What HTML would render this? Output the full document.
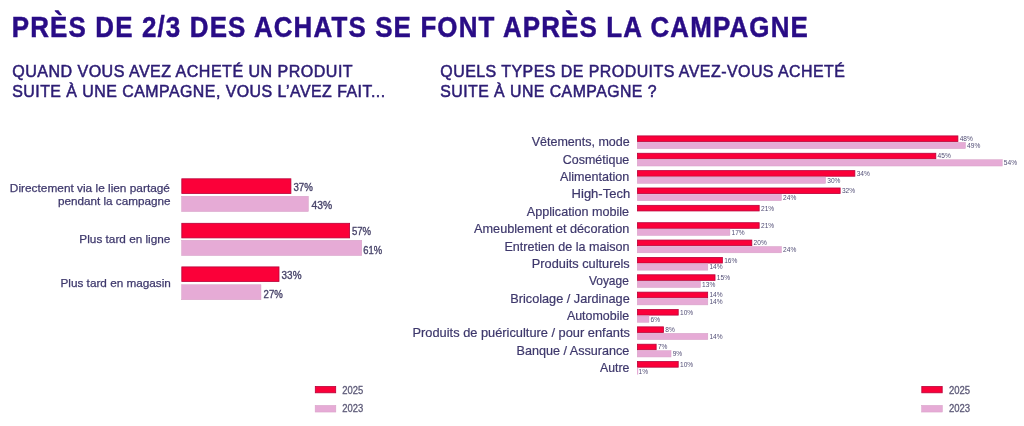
<!DOCTYPE html><html><head><meta charset="utf-8"><title>Achats après campagne</title><style>html,body{margin:0;padding:0;background:#fff;width:1024px;height:426px;overflow:hidden}svg{display:block;will-change:transform}text{font-family:"Liberation Sans",Arial,sans-serif}</style></head><body>
<svg width="1024" height="426" viewBox="0 0 1024 426">
<rect width="1024" height="426" fill="#fff"/>
<rect x="181.80" y="178.80" width="109.10" height="14.70" fill="#fb0039" stroke="#b8003a" stroke-width="0.8"/>
<rect x="181.65" y="196.25" width="126.70" height="15.30" fill="#e6abd6" stroke="#d6a0c6" stroke-width="0.5"/>
<rect x="181.80" y="223.30" width="167.80" height="14.60" fill="#fb0039" stroke="#b8003a" stroke-width="0.8"/>
<rect x="181.65" y="240.25" width="180.10" height="15.30" fill="#e6abd6" stroke="#d6a0c6" stroke-width="0.5"/>
<rect x="181.80" y="266.90" width="97.20" height="14.60" fill="#fb0039" stroke="#b8003a" stroke-width="0.8"/>
<rect x="181.65" y="284.75" width="79.30" height="15.00" fill="#e6abd6" stroke="#d6a0c6" stroke-width="0.5"/>
<rect x="637.40" y="135.90" width="320.50" height="5.60" fill="#fb0039" stroke="#b8003a" stroke-width="0.8"/>
<rect x="637.25" y="142.35" width="328.16" height="6.30" fill="#e6abd6" stroke="#d6a0c6" stroke-width="0.5"/>
<rect x="637.40" y="153.26" width="298.42" height="5.60" fill="#fb0039" stroke="#b8003a" stroke-width="0.8"/>
<rect x="637.25" y="159.71" width="364.96" height="6.30" fill="#e6abd6" stroke="#d6a0c6" stroke-width="0.5"/>
<rect x="637.40" y="170.62" width="217.46" height="5.60" fill="#fb0039" stroke="#b8003a" stroke-width="0.8"/>
<rect x="637.25" y="177.07" width="188.32" height="6.30" fill="#e6abd6" stroke="#d6a0c6" stroke-width="0.5"/>
<rect x="637.40" y="187.98" width="202.74" height="5.60" fill="#fb0039" stroke="#b8003a" stroke-width="0.8"/>
<rect x="637.25" y="194.43" width="144.16" height="6.30" fill="#e6abd6" stroke="#d6a0c6" stroke-width="0.5"/>
<rect x="637.40" y="205.34" width="121.78" height="5.60" fill="#fb0039" stroke="#b8003a" stroke-width="0.8"/>
<rect x="637.40" y="222.70" width="121.78" height="5.60" fill="#fb0039" stroke="#b8003a" stroke-width="0.8"/>
<rect x="637.25" y="229.15" width="92.64" height="6.30" fill="#e6abd6" stroke="#d6a0c6" stroke-width="0.5"/>
<rect x="637.40" y="240.06" width="114.42" height="5.60" fill="#fb0039" stroke="#b8003a" stroke-width="0.8"/>
<rect x="637.25" y="246.51" width="144.16" height="6.30" fill="#e6abd6" stroke="#d6a0c6" stroke-width="0.5"/>
<rect x="637.40" y="257.42" width="84.98" height="5.60" fill="#fb0039" stroke="#b8003a" stroke-width="0.8"/>
<rect x="637.25" y="263.87" width="70.56" height="6.30" fill="#e6abd6" stroke="#d6a0c6" stroke-width="0.5"/>
<rect x="637.40" y="274.78" width="77.62" height="5.60" fill="#fb0039" stroke="#b8003a" stroke-width="0.8"/>
<rect x="637.25" y="281.23" width="63.20" height="6.30" fill="#e6abd6" stroke="#d6a0c6" stroke-width="0.5"/>
<rect x="637.40" y="292.14" width="70.26" height="5.60" fill="#fb0039" stroke="#b8003a" stroke-width="0.8"/>
<rect x="637.25" y="298.59" width="70.56" height="6.30" fill="#e6abd6" stroke="#d6a0c6" stroke-width="0.5"/>
<rect x="637.40" y="309.50" width="40.82" height="5.60" fill="#fb0039" stroke="#b8003a" stroke-width="0.8"/>
<rect x="637.25" y="315.95" width="11.68" height="6.30" fill="#e6abd6" stroke="#d6a0c6" stroke-width="0.5"/>
<rect x="637.40" y="326.86" width="26.10" height="5.60" fill="#fb0039" stroke="#b8003a" stroke-width="0.8"/>
<rect x="637.25" y="333.31" width="70.56" height="6.30" fill="#e6abd6" stroke="#d6a0c6" stroke-width="0.5"/>
<rect x="637.40" y="344.22" width="18.74" height="5.60" fill="#fb0039" stroke="#b8003a" stroke-width="0.8"/>
<rect x="637.25" y="350.67" width="33.76" height="6.30" fill="#e6abd6" stroke="#d6a0c6" stroke-width="0.5"/>
<rect x="637.40" y="361.58" width="40.82" height="5.60" fill="#fb0039" stroke="#b8003a" stroke-width="0.8"/>
<rect x="637.00" y="367.78" width="1.20" height="6.80" fill="#e6abd6"/>
<rect x="315.30" y="386.50" width="20.40" height="6.30" fill="#fb0039" stroke="#b8003a" stroke-width="0.8"/>
<rect x="315.15" y="405.35" width="20.70" height="6.70" fill="#e6abd6" stroke="#d6a0c6" stroke-width="0.5"/>
<rect x="921.80" y="386.50" width="20.40" height="6.30" fill="#fb0039" stroke="#b8003a" stroke-width="0.8"/>
<rect x="921.65" y="405.35" width="20.70" height="6.70" fill="#e6abd6" stroke="#d6a0c6" stroke-width="0.5"/>
<text x="11.82" y="36.80" font-size="29.6" font-weight="bold" fill="#290c86" stroke="#290c86" stroke-width="0.5" letter-spacing="1.3" textLength="797.12" lengthAdjust="spacingAndGlyphs">PRÈS DE 2/3 DES ACHATS SE FONT APRÈS LA CAMPAGNE</text>
<text x="12.20" y="76.70" font-size="17.0" fill="#2c1c74" stroke="#2c1c74" stroke-width="0.55" letter-spacing="0.5" textLength="340.97" lengthAdjust="spacingAndGlyphs">QUAND VOUS AVEZ ACHETÉ UN PRODUIT</text>
<text x="12.20" y="96.60" font-size="17.0" fill="#2c1c74" stroke="#2c1c74" stroke-width="0.55" letter-spacing="0.5" textLength="373.38" lengthAdjust="spacingAndGlyphs">SUITE À UNE CAMPAGNE, VOUS L’AVEZ FAIT...</text>
<text x="440.30" y="76.70" font-size="17.0" fill="#2c1c74" stroke="#2c1c74" stroke-width="0.55" letter-spacing="0.5" textLength="405.13" lengthAdjust="spacingAndGlyphs">QUELS TYPES DE PRODUITS AVEZ-VOUS ACHETÉ</text>
<text x="440.30" y="96.60" font-size="17.0" fill="#2c1c74" stroke="#2c1c74" stroke-width="0.55" letter-spacing="0.5" textLength="216.74" lengthAdjust="spacingAndGlyphs">SUITE À UNE CAMPAGNE ?</text>
<text x="9.89" y="192.00" font-size="11.7" fill="#3e386c" stroke="#3e386c" stroke-width="0.25" textLength="160.09" lengthAdjust="spacingAndGlyphs">Directement via le lien partagé</text>
<text x="57.90" y="205.20" font-size="11.7" fill="#3e386c" stroke="#3e386c" stroke-width="0.25" textLength="112.62" lengthAdjust="spacingAndGlyphs">pendant la campagne</text>
<text x="79.39" y="242.70" font-size="11.7" fill="#3e386c" stroke="#3e386c" stroke-width="0.25" textLength="91.02" lengthAdjust="spacingAndGlyphs">Plus tard en ligne</text>
<text x="60.49" y="287.10" font-size="11.7" fill="#3e386c" stroke="#3e386c" stroke-width="0.25" textLength="110.41" lengthAdjust="spacingAndGlyphs">Plus tard en magasin</text>
<text x="293.40" y="191.10" font-size="10.6" fill="#48446a" stroke="#48446a" stroke-width="0.35" textLength="19.39" lengthAdjust="spacingAndGlyphs">37%</text>
<text x="311.60" y="209.10" font-size="10.6" fill="#48446a" stroke="#48446a" stroke-width="0.35" textLength="20.60" lengthAdjust="spacingAndGlyphs">43%</text>
<text x="351.90" y="234.60" font-size="10.6" fill="#48446a" stroke="#48446a" stroke-width="0.35" textLength="19.18" lengthAdjust="spacingAndGlyphs">57%</text>
<text x="363.20" y="253.70" font-size="10.6" fill="#48446a" stroke="#48446a" stroke-width="0.35" textLength="18.88" lengthAdjust="spacingAndGlyphs">61%</text>
<text x="281.60" y="279.00" font-size="10.6" fill="#48446a" stroke="#48446a" stroke-width="0.35" textLength="19.89" lengthAdjust="spacingAndGlyphs">33%</text>
<text x="263.60" y="297.50" font-size="10.6" fill="#48446a" stroke="#48446a" stroke-width="0.35" textLength="19.18" lengthAdjust="spacingAndGlyphs">27%</text>
<text x="531.70" y="146.40" font-size="12.2" fill="#3e386c" stroke="#3e386c" stroke-width="0.2" textLength="98.05" lengthAdjust="spacingAndGlyphs">Vêtements, mode</text>
<text x="562.80" y="163.76" font-size="12.2" fill="#3e386c" stroke="#3e386c" stroke-width="0.2" textLength="66.45" lengthAdjust="spacingAndGlyphs">Cosmétique</text>
<text x="560.10" y="181.12" font-size="12.2" fill="#3e386c" stroke="#3e386c" stroke-width="0.2" textLength="69.18" lengthAdjust="spacingAndGlyphs">Alimentation</text>
<text x="571.63" y="198.48" font-size="12.2" fill="#3e386c" stroke="#3e386c" stroke-width="0.2" textLength="58.50" lengthAdjust="spacingAndGlyphs">High-Tech</text>
<text x="526.80" y="215.84" font-size="12.2" fill="#3e386c" stroke="#3e386c" stroke-width="0.2" textLength="102.32" lengthAdjust="spacingAndGlyphs">Application mobile</text>
<text x="474.10" y="233.20" font-size="12.2" fill="#3e386c" stroke="#3e386c" stroke-width="0.2" textLength="155.17" lengthAdjust="spacingAndGlyphs">Ameublement et décoration</text>
<text x="504.47" y="250.56" font-size="12.2" fill="#3e386c" stroke="#3e386c" stroke-width="0.2" textLength="125.02" lengthAdjust="spacingAndGlyphs">Entretien de la maison</text>
<text x="531.85" y="267.92" font-size="12.2" fill="#3e386c" stroke="#3e386c" stroke-width="0.2" textLength="97.85" lengthAdjust="spacingAndGlyphs">Produits culturels</text>
<text x="588.90" y="285.28" font-size="12.2" fill="#3e386c" stroke="#3e386c" stroke-width="0.2" textLength="39.98" lengthAdjust="spacingAndGlyphs">Voyage</text>
<text x="510.26" y="302.64" font-size="12.2" fill="#3e386c" stroke="#3e386c" stroke-width="0.2" textLength="119.47" lengthAdjust="spacingAndGlyphs">Bricolage / Jardinage</text>
<text x="566.90" y="320.00" font-size="12.2" fill="#3e386c" stroke="#3e386c" stroke-width="0.2" textLength="62.28" lengthAdjust="spacingAndGlyphs">Automobile</text>
<text x="412.55" y="337.36" font-size="12.2" fill="#3e386c" stroke="#3e386c" stroke-width="0.2" textLength="217.33" lengthAdjust="spacingAndGlyphs">Produits de puériculture / pour enfants</text>
<text x="516.47" y="354.72" font-size="12.2" fill="#3e386c" stroke="#3e386c" stroke-width="0.2" textLength="112.83" lengthAdjust="spacingAndGlyphs">Banque / Assurance</text>
<text x="600.00" y="372.08" font-size="12.2" fill="#3e386c" stroke="#3e386c" stroke-width="0.2" textLength="29.34" lengthAdjust="spacingAndGlyphs">Autre</text>
<text x="959.70" y="141.10" font-size="6.6" fill="#524e76">48%</text>
<text x="967.06" y="147.90" font-size="6.6" fill="#524e76">49%</text>
<text x="937.62" y="158.46" font-size="6.6" fill="#524e76">45%</text>
<text x="1003.86" y="165.26" font-size="6.6" fill="#524e76">54%</text>
<text x="856.66" y="175.82" font-size="6.6" fill="#524e76">34%</text>
<text x="827.22" y="182.62" font-size="6.6" fill="#524e76">30%</text>
<text x="841.94" y="193.18" font-size="6.6" fill="#524e76">32%</text>
<text x="783.06" y="199.98" font-size="6.6" fill="#524e76">24%</text>
<text x="760.98" y="210.54" font-size="6.6" fill="#524e76">21%</text>
<text x="760.98" y="227.90" font-size="6.6" fill="#524e76">21%</text>
<text x="731.54" y="234.70" font-size="6.6" fill="#524e76">17%</text>
<text x="753.62" y="245.26" font-size="6.6" fill="#524e76">20%</text>
<text x="783.06" y="252.06" font-size="6.6" fill="#524e76">24%</text>
<text x="724.18" y="262.62" font-size="6.6" fill="#524e76">16%</text>
<text x="709.46" y="269.42" font-size="6.6" fill="#524e76">14%</text>
<text x="716.82" y="279.98" font-size="6.6" fill="#524e76">15%</text>
<text x="702.10" y="286.78" font-size="6.6" fill="#524e76">13%</text>
<text x="709.46" y="297.34" font-size="6.6" fill="#524e76">14%</text>
<text x="709.46" y="304.14" font-size="6.6" fill="#524e76">14%</text>
<text x="680.02" y="314.70" font-size="6.6" fill="#524e76">10%</text>
<text x="650.58" y="321.50" font-size="6.6" fill="#524e76">6%</text>
<text x="665.30" y="332.06" font-size="6.6" fill="#524e76">8%</text>
<text x="709.46" y="338.86" font-size="6.6" fill="#524e76">14%</text>
<text x="657.94" y="349.42" font-size="6.6" fill="#524e76">7%</text>
<text x="672.66" y="356.22" font-size="6.6" fill="#524e76">9%</text>
<text x="680.02" y="366.78" font-size="6.6" fill="#524e76">10%</text>
<text x="638.50" y="373.58" font-size="6.6" fill="#524e76">1%</text>
<text x="342.30" y="393.90" font-size="10.0" fill="#5d5a78" stroke="#5d5a78" stroke-width="0.3" textLength="20.94" lengthAdjust="spacingAndGlyphs">2025</text>
<text x="342.30" y="412.40" font-size="10.0" fill="#5d5a78" stroke="#5d5a78" stroke-width="0.3" textLength="20.94" lengthAdjust="spacingAndGlyphs">2023</text>
<text x="948.90" y="393.90" font-size="10.0" fill="#5d5a78" stroke="#5d5a78" stroke-width="0.3" textLength="21.14" lengthAdjust="spacingAndGlyphs">2025</text>
<text x="948.90" y="412.40" font-size="10.0" fill="#5d5a78" stroke="#5d5a78" stroke-width="0.3" textLength="21.14" lengthAdjust="spacingAndGlyphs">2023</text>
</svg></body></html>
